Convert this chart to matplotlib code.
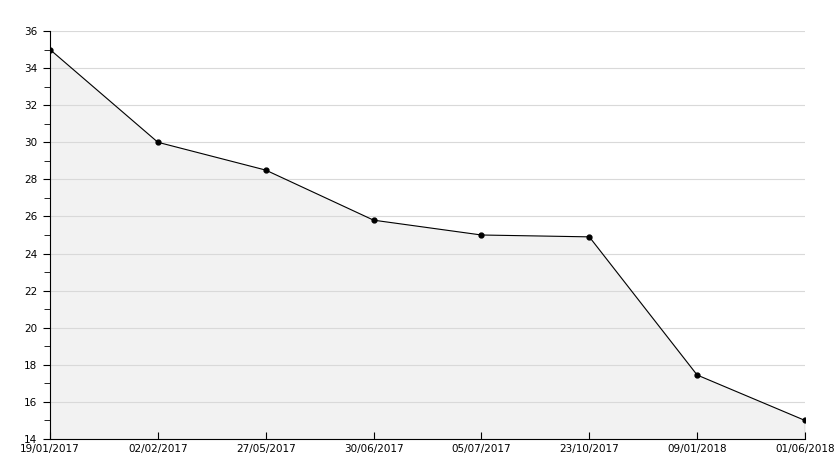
import matplotlib.pyplot as plt
import numpy as np

# Data
dates = ['19/01/2017', '02/02/2017', '27/05/2017', '30/06/2017',
         '05/07/2017', '23/10/2017', '09/01/2018', '01/06/2018']
values = [35.0, 30.0, 28.5, 25.8, 25.0, 24.9, 17.45, 15.0]

x = np.arange(len(dates))

fig = plt.figure(figsize=(8.34, 4.68), dpi=100)
ax = fig.add_axes([50 / 834, 29 / 468, 755 / 834, 408 / 468])

ax.fill_between(x, values, 14, color='#f2f2f2', zorder=1)
ax.plot(x, values, color='black', lw=0.8, marker='o', ms=3.5, zorder=3)
ax.vlines(x[-1], 14, values[-1], color='black', lw=0.8, zorder=3)

ax.set_xlim(0, len(dates) - 1)
ax.set_ylim(14, 36)
ax.set_yticks(np.arange(14, 37, 2))
ax.set_yticks(np.arange(15, 36, 2), minor=True)
ax.set_xticks(x)
ax.set_xticklabels(dates)

ax.grid(axis='y', color='#d9d9d9', lw=0.8, zorder=0)
for s in ['top', 'right']:
    ax.spines[s].set_visible(False)

ax.tick_params(axis='y', which='major', direction='out', length=5, labelsize=7.5, pad=4)
ax.tick_params(axis='y', which='minor', direction='out', length=4)
ax.tick_params(axis='x', direction='in', length=5, labelsize=7.5, pad=3.5)

plt.savefig('out.png', dpi=100)
